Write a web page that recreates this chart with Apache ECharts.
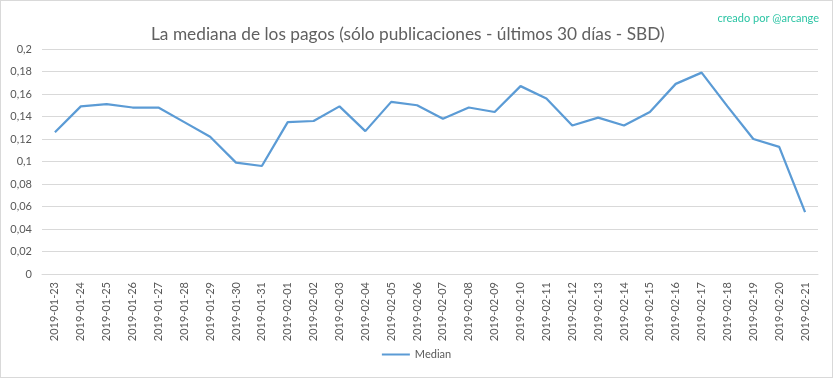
<!DOCTYPE html>
<html>
<head>
<meta charset="utf-8">
<script src="https://cdn.jsdelivr.net/npm/echarts@6/dist/echarts.min.js"></script>
<style>
  html, body { margin: 0; padding: 0; background: #fff; }
  #chart { width: 831px; height: 376px; border: 1px solid #d9d9d9; }
</style>
</head>
<body>
<div id="chart"></div>
<script>
// Chart data
const dates = [
  "2019-01-23", "2019-01-24", "2019-01-25", "2019-01-26", "2019-01-27",
  "2019-01-28", "2019-01-29", "2019-01-30", "2019-01-31", "2019-02-01",
  "2019-02-02", "2019-02-03", "2019-02-04", "2019-02-05", "2019-02-06",
  "2019-02-07", "2019-02-08", "2019-02-09", "2019-02-10", "2019-02-11",
  "2019-02-12", "2019-02-13", "2019-02-14", "2019-02-15", "2019-02-16",
  "2019-02-17", "2019-02-18", "2019-02-19", "2019-02-20", "2019-02-21",
];
const median = [
  0.126, 0.149, 0.151, 0.148, 0.148,
  0.135, 0.122, 0.099, 0.096, 0.135,
  0.136, 0.149, 0.127, 0.153, 0.150,
  0.138, 0.148, 0.144, 0.167, 0.156,
  0.132, 0.139, 0.132, 0.144, 0.169,
  0.179, 0.149, 0.120, 0.113, 0.055,
];
const seriesName = "Median";
const titleText = "La mediana de los pagos (sólo publicaciones - últimos 30 días - SBD)";
const creditText = "creado por @arcange";

const textColor = "#595959";
const font = "Lato, 'Open Sans', sans-serif";

const chart = echarts.init(document.getElementById("chart"));

const option = {
  animation: false,
  textStyle: { fontFamily: font },
  title: [
    {
      text: titleText,
      left: 145,
      top: 20,
      textStyle: {
        color: "#606060",
        fontSize: 17.3,
        fontWeight: "normal",
        fontFamily: font,
      },
    },
    {
      text: creditText,
      right: 8,
      top: 7,
      textStyle: {
        color: "#2bc4a4",
        fontSize: 11,
        fontWeight: "normal",
        fontFamily: font,
      },
    },
  ],
  legend: {
    data: [seriesName],
    bottom: 12,
    left: "center",
    icon: "rect",
    itemWidth: 28,
    itemHeight: 2,
    itemGap: 6,
    textStyle: { color: textColor, fontSize: 11, fontFamily: font },
  },
  grid: {
    left: 41,
    right: 14,
    top: 48,
    bottom: 103,
    containLabel: false,
  },
  xAxis: {
    type: "category",
    data: dates,
    boundaryGap: true,
    axisLine: { lineStyle: { color: "#d9d9d9" } },
    axisTick: { show: false },
    axisLabel: {
      rotate: 90,
      interval: 0,
      color: textColor,
      fontSize: 11,
      margin: 8,
      fontFamily: font,
    },
  },
  yAxis: {
    type: "value",
    min: 0,
    max: 0.2,
    interval: 0.02,
    axisLine: { show: false },
    axisTick: { show: false },
    axisLabel: {
      color: textColor,
      fontSize: 11,
      margin: 10,
      fontFamily: font,
      formatter: (v) => String(Math.round(v * 100) / 100).replace(".", ","),
    },
    splitLine: { lineStyle: { color: "#d9d9d9", width: 1 } },
  },
  series: [
    {
      name: seriesName,
      type: "line",
      data: median,
      showSymbol: false,
      symbol: "none",
      lineStyle: { color: "#5b9bd5", width: 2.25 },
      itemStyle: { color: "#5b9bd5" },
    },
  ],
};

chart.setOption(option);
</script>
</body>
</html>
